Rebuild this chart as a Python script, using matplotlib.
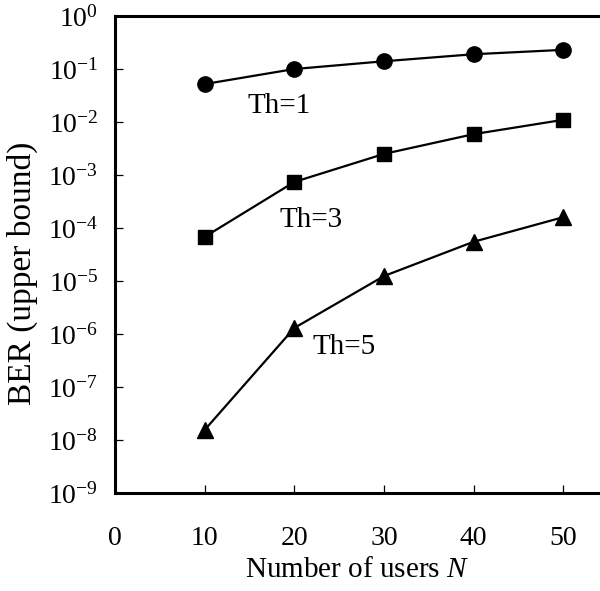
import matplotlib
matplotlib.use("Agg")
import matplotlib.pyplot as plt
from matplotlib.ticker import FixedLocator, FixedFormatter

plt.rcParams['font.family'] = ['Liberation Serif', 'DejaVu Serif']
plt.rcParams['mathtext.fontset'] = 'custom'
plt.rcParams['mathtext.rm'] = 'Liberation Serif'
plt.rcParams['mathtext.it'] = 'Liberation Serif:italic'

# number of users
users = [10, 20, 30, 40, 50]

# BER upper bound for each threshold
ber_th1 = [0.052, 0.10, 0.14, 0.19, 0.23]
ber_th3 = [6.8e-5, 7.4e-4, 2.5e-3, 5.9e-3, 1.1e-2]
ber_th5 = [1.55e-8, 1.3e-6, 1.24e-5, 5.5e-5, 1.6e-4]

x_ticks = [0, 10, 20, 30, 40, 50]
y_exponents = [0, -1, -2, -3, -4, -5, -6, -7, -8, -9]

fig = plt.figure(figsize=(6, 5.91), dpi=100)
ax = fig.add_axes([0.1917, 0.1658, 0.8083, 0.8071])

ax.plot(users, ber_th1, 'k-', marker='o', markersize=11, linewidth=1.6)
ax.plot(users, ber_th3, 'k-', marker='s', markersize=10.5, linewidth=1.6)
ax.plot(users, ber_th5, 'k-', marker='^', markersize=11, linewidth=1.6)

ax.text(18.3, 10 ** -1.70, 'Th=1', fontsize=21, ha='center', va='center')
ax.text(21.9, 10 ** -3.85, 'Th=3', fontsize=21, ha='center', va='center')
ax.text(25.6, 10 ** -6.25, 'Th=5', fontsize=21, ha='center', va='center')

ax.set_yscale('log')
ax.set_ylim(1e-9, 1)
ax.set_xlim(0, 54.1)

ax.xaxis.set_major_locator(FixedLocator(x_ticks))
ax.yaxis.set_major_locator(FixedLocator([10.0 ** e for e in y_exponents]))
ax.yaxis.set_major_formatter(FixedFormatter(
    [r'$\mathregular{10^{%d}}$' % e for e in y_exponents]))
ax.yaxis.set_minor_locator(FixedLocator([]))

ax.tick_params(axis='both', direction='in', length=6, width=0.9,
               labelsize=20, top=False, right=False)
ax.tick_params(axis='x', pad=24)
ax.tick_params(axis='y', pad=12)

for side in ['left', 'bottom', 'top']:
    ax.spines[side].set_linewidth(2.2)
ax.spines['right'].set_visible(False)

ax.set_xlabel(r'Number of users $\mathit{N}$', fontsize=21, labelpad=4)
ax.set_ylabel('BER (upper bound)', fontsize=24, va='center')
ax.yaxis.set_label_coords(-0.19, 0.461)

fig.savefig('out.png', dpi=100)
